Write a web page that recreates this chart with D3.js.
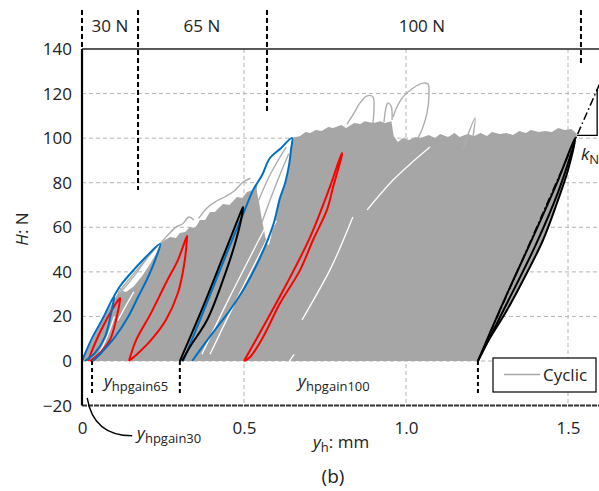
<!DOCTYPE html>
<html>
<head>
<meta charset="utf-8">
<script src="https://cdn.jsdelivr.net/npm/d3@7"></script>
<style>
body { margin: 0; background: #fff; }
svg { display: block; }
svg text { font-family: "Open Sans", sans-serif; fill: #222; }
</style>
</head>
<body>
<script>
const w = 599, h = 491;

// axis ticks
const xTicks = [0, 0.5, 1.0, 1.5];
const xTickLabels = ["0", "0.5", "1.0", "1.5"];
const yTicks = [-20, 0, 20, 40, 60, 80, 100, 120, 140];
const yTickLabels = ["\u221220", "0", "20", "40", "60", "80", "100", "120", "140"];

// load stages
const forceLabels = ["30 N", "65 N", "100 N"];
const forceLabelX = [0.086, 0.370, 1.049];
const forceSplitX = [0, 0.173, 0.571, 1.540];
const forceSplitEnd = [140, 76.7, 111.3, 133.7];
const gainX = [0.031, 0.302, 1.222];
const kN = 331; // N/mm, slope of the dash-dot line

// cyclic cloud (outline of all gray cycles), [y_h mm, H N]
const cyclicCloud = [
  [0,0],[0.019,5.8],[0.043,12.6],[0.068,19.3],[0.093,26.0],[0.111,30.5],[0.123,31.5],[0.136,31.0],
  [0.160,33.5],[0.185,38.0],[0.210,43.5],[0.228,48.0],[0.241,52.5],[0.256,54.3],[0.272,55.6],
  [0.290,55.2],[0.302,57.4],[0.318,57.9],[0.333,60.1],[0.349,59.7],[0.364,63.3],[0.380,63.3],
  [0.395,66.9],[0.410,66.9],[0.435,70.5],[0.455,70.0],[0.478,73.6],[0.495,73.1],[0.509,75.8],
  [0.528,76.7],[0.556,83.5],[0.580,89.8],[0.614,95.5],[0.648,100.1],[0.673,101.0],[0.690,102.8],
  [0.704,102.3],[0.722,103.7],[0.740,103.2],[0.760,105.0],[0.775,104.5],[0.800,105.9],[0.815,104.5],
  [0.840,106.8],[0.860,106.3],[0.872,107.6],[0.900,106.8],[0.920,107.6],[0.935,106.8],[0.955,107.6],
  [0.962,101.0],[0.975,98.3],[0.990,100.1],[1.010,99.2],[1.030,100.5],[1.045,100.1],[1.070,101.4],
  [1.090,100.1],[1.105,101.9],[1.130,100.5],[1.150,102.3],[1.165,100.5],[1.190,101.9],[1.210,101.0],
  [1.230,102.3],[1.250,101.0],[1.265,102.8],[1.290,101.9],[1.310,102.3],[1.330,101.4],[1.350,103.2],
  [1.370,102.3],[1.385,103.7],[1.410,102.8],[1.430,103.2],[1.450,102.8],[1.470,104.5],[1.490,103.7],
  [1.510,104.1],[1.528,101.9],[1.500,85.7],[1.466,70.9],[1.423,54.3],[1.373,39.5],[1.312,22.9],
  [1.250,8.1],[1.222,0]
];

// open area inside the 100 N blue cycle
const cloudGap = [
  [0.648,100.1],[0.614,95.5],[0.580,91.1],[0.556,83.5],[0.540,78.5],[0.548,70.0],[0.560,60.0],
  [0.575,52.0],[0.590,60.1],[0.611,72.2],[0.627,79.0],[0.642,90.2],[0.648,100.1]
];

// single gray cycles that stand out of the cloud
const cyclicLines = [
  [[0.818,106.3],[0.840,111.3],[0.858,115.8],[0.880,119.0],[0.898,118.5],[0.901,112.6],[0.898,106.8]],
  [[0.932,107.2],[0.938,113.5],[0.944,115.8],[0.954,114.4],[0.957,108.1]],
  [[0.960,109.5],[0.972,114.0],[0.991,118.5],[1.022,122.5],[1.052,124.7],[1.068,124.3],[1.071,120.3],[1.065,111.3],[1.049,103.7],[1.037,100.1]],
  [[1.176,94.7],[1.195,103.0],[1.213,109.0],[1.207,101.0]],
  [[0.241,52.5],[0.265,56.5],[0.290,60.1],[0.310,61.5],[0.330,64.6],[0.345,63.3]],
  [[0.360,64.0],[0.385,68.6],[0.410,71.3],[0.440,73.6],[0.470,76.3],[0.497,80.3],[0.520,82.0]],
  [[0.111,30.5],[0.150,37.5],[0.190,44.5],[0.225,50.5]],
  [[0.123,31.5],[0.160,38.0],[0.200,46.0],[0.236,52.0]],
  [[0.099,29.2],[0.117,32.7],[0.125,29.0]],
  [[0.545,72.0],[0.575,82.0],[0.605,90.0],[0.630,96.0]],
  [[0.555,62.0],[0.585,74.0],[0.615,85.0],[0.638,93.0]]
];

// thin white gaps between cycles
const whiteGaps = [
  [[1.074,96.0],[1.010,88.0],[0.960,81.2],[0.880,67.8]],
  [[0.836,64.6],[0.800,52.0],[0.765,40.8],[0.679,18.4]],
  [[0.370,3.0],[0.450,27.0],[0.520,47.0],[0.580,64.0]],
  [[0.395,3.0],[0.475,27.0],[0.545,47.0],[0.600,63.0]],
  [[0.045,1.5],[0.075,10.0],[0.100,20.0]],
  [[0.110,18.0],[0.140,26.0],[0.160,31.0]],
  [[0.640,0],[0.655,3.0]]
];

// highlighted cycles
const redCycles = [
  [[0.019,0],[0.028,3.6],[0.059,13.9],[0.096,23.8],[0.117,28.3],[0.117,27.4],[0.105,18.4],[0.086,9.4],[0.049,2.7],[0.025,0]],
  [[0.145,0],[0.167,9.4],[0.213,21.5],[0.259,35.0],[0.296,45.3],[0.324,56.1],[0.324,55.2],[0.315,43.1],[0.296,30.5],[0.259,18.4],[0.213,9.4],[0.167,2.7],[0.145,0]],
  [[0.500,0],[0.559,15.3],[0.633,35.0],[0.704,55.6],[0.765,78.1],[0.802,93.3],[0.802,92.4],[0.775,78.1],[0.756,67.8],[0.713,54.3],[0.673,40.8],[0.611,25.9],[0.559,10.8],[0.519,1.8],[0.500,0]]
];
const blueCycles = [
  [[0,0],[0.028,9.4],[0.065,19.3],[0.099,29.2],[0.099,28.7],[0.090,21.5],[0.071,10.8],[0.040,3.6],[0.009,0]],
  [[0.034,0],[0.059,3.6],[0.102,10.8],[0.142,19.7],[0.173,28.7],[0.204,37.7],[0.228,46.2],[0.241,52.5],[0.194,46.2],[0.151,39.5],[0.120,34.1],[0.099,29.2]],
  [[0.312,0],[0.364,18.4],[0.410,35.0],[0.457,52.0],[0.500,66.9],[0.528,76.7],[0.556,83.5],[0.580,91.1],[0.614,95.5],[0.648,100.1],[0.645,94.7],[0.639,87.9],[0.627,79.9],[0.611,73.1],[0.590,61.0],[0.549,46.2],[0.503,33.2],[0.457,22.9],[0.410,13.9],[0.364,4.9],[0.340,0]]
];
const blackCycles = [
  [[0.302,0],[0.373,24.2],[0.435,46.7],[0.478,62.4],[0.497,69.1],[0.478,55.6],[0.435,36.3],[0.386,18.4],[0.333,6.3],[0.309,0]],
  [[1.222,0],[1.299,26.0],[1.392,55.6],[1.466,79.9],[1.522,100.1],[1.500,85.7],[1.466,70.9],[1.423,54.3],[1.373,39.5],[1.312,22.9],[1.250,8.1],[1.222,0]],
  [[1.222,0],[1.305,24.0],[1.400,52.0],[1.470,76.0],[1.520,98.0]]
];

const x = d3.scaleLinear().domain([0, 1.6]).range([82, 600.4]);
const y = d3.scaleLinear().domain([-20, 140]).range([405.6, 49]);

const svg = d3.select('body').append('svg')
  .attr('width', w).attr('height', h);

const line = d3.line().x(d => x(d[0])).y(d => y(d[1]));
const smooth = d3.line().x(d => x(d[0])).y(d => y(d[1])).curve(d3.curveCatmullRom.alpha(0.5));

// grid
svg.append('g').selectAll('line')
  .data(yTicks.filter(d => d > -20 && d < 140))
  .enter().append('line')
  .attr('x1', x(0)).attr('x2', w)
  .attr('y1', d => y(d)).attr('y2', d => y(d))
  .attr('stroke', '#b5b5b5').attr('stroke-dasharray', '4,3');
svg.append('g').selectAll('line')
  .data(xTicks.slice(1))
  .enter().append('line')
  .attr('x1', d => x(d)).attr('x2', d => x(d))
  .attr('y1', y(140)).attr('y2', y(-20))
  .attr('stroke', '#b5b5b5').attr('stroke-dasharray', '4,3');

// gray cloud of cycles
svg.append('path')
  .attr('d', line(cyclicCloud) + 'Z')
  .attr('fill', '#a6a6a6');
svg.append('path')
  .attr('d', smooth(cloudGap) + 'Z')
  .attr('fill', '#fff');
svg.append('g').selectAll('path')
  .data(whiteGaps)
  .enter().append('path')
  .attr('d', smooth)
  .attr('fill', 'none').attr('stroke', '#fff').attr('stroke-width', 1.3);
svg.append('g').selectAll('path')
  .data(cyclicLines)
  .enter().append('path')
  .attr('d', smooth)
  .attr('fill', 'none').attr('stroke', '#adadad').attr('stroke-width', 1.4);

// highlighted cycles
const drawCycles = (data, colour) => svg.append('g').selectAll('path')
  .data(data)
  .enter().append('path')
  .attr('d', smooth)
  .attr('fill', 'none').attr('stroke', colour).attr('stroke-width', 2)
  .attr('stroke-linejoin', 'round');
drawCycles(redCycles, '#ff0000');
drawCycles(blueCycles, '#0070c0');
drawCycles(blackCycles, '#000');

// stiffness line and triangle
const kx0 = gainX[2];
svg.append('line')
  .attr('x1', x(kx0)).attr('y1', y(0))
  .attr('x2', x(1.6)).attr('y2', y(kN * (1.6 - kx0)))
  .attr('stroke', '#000').attr('stroke-width', 1.5)
  .attr('stroke-dasharray', '8,3,1.5,3');
const tA = 1.528, tB = 1.590;
svg.append('path')
  .attr('d', `M${x(tA)},${y(kN * (tA - kx0))}H${x(tB)}V${y(kN * (tB - kx0))}`)
  .attr('fill', 'none').attr('stroke', '#000').attr('stroke-width', 1.3);

// frame
svg.append('line')
  .attr('x1', x(0)).attr('x2', w).attr('y1', y(140)).attr('y2', y(140))
  .attr('stroke', '#222').attr('stroke-width', 1.6);
svg.append('line')
  .attr('x1', x(0)).attr('x2', w).attr('y1', y(-20)).attr('y2', y(-20))
  .attr('stroke', '#333').attr('stroke-width', 2).attr('stroke-dasharray', '5,1');
svg.append('line')
  .attr('x1', x(0)).attr('x2', x(0)).attr('y1', y(140)).attr('y2', y(-20))
  .attr('stroke', '#000').attr('stroke-width', 2.2);

// stage separators
svg.append('g').selectAll('line')
  .data(forceSplitX)
  .enter().append('line')
  .attr('x1', d => x(d)).attr('x2', d => x(d))
  .attr('y1', y(157.5)).attr('y2', (d, i) => y(forceSplitEnd[i]))
  .attr('stroke', '#000').attr('stroke-width', 2).attr('stroke-dasharray', '5,3');
svg.append('g').selectAll('text')
  .data(forceLabels)
  .enter().append('text')
  .attr('x', (d, i) => x(forceLabelX[i])).attr('y', y(147.6))
  .attr('text-anchor', 'middle').attr('font-size', 17)
  .text(d => d);

// gain markers
svg.append('g').selectAll('line')
  .data(gainX)
  .enter().append('line')
  .attr('x1', d => x(d)).attr('x2', d => x(d))
  .attr('y1', y(0)).attr('y2', y(-15.3))
  .attr('stroke', '#000').attr('stroke-width', 2).attr('stroke-dasharray', '4,3');

const subLabel = (px, py, main, sub, rest) => {
  const t = svg.append('text').attr('x', px).attr('y', py).attr('font-size', 17);
  t.append('tspan').attr('font-style', 'italic').text(main);
  t.append('tspan').attr('font-size', 13).attr('dy', 4).text(sub);
  if (rest) t.append('tspan').attr('dy', -4).text(rest);
  return t;
};
subLabel(x(0.068), y(-11.7), 'y', 'hpgain65');
subLabel(x(0.667), y(-11.7), 'y', 'hpgain100');
subLabel(x(0.170), y(-34.8), 'y', 'hpgain30');
subLabel(313, 448, 'y', 'h', ': mm');
subLabel(581, 160, 'k', 'N');

svg.append('path')
  .attr('d', `M${x(0.016)},${y(-16.5)}Q${x(0.035)},${y(-33.5)} ${x(0.155)},${y(-33.5)}`)
  .attr('fill', 'none').attr('stroke', '#000').attr('stroke-width', 1.4);

// axes
const yAxis = svg.append('g')
  .attr('transform', `translate(${x(0)},0)`)
  .call(d3.axisLeft(y).tickValues(yTicks).tickFormat((d, i) => yTickLabels[i]).tickSize(0).tickPadding(10));
const xAxis = svg.append('g')
  .attr('transform', `translate(0,${y(-20)})`)
  .call(d3.axisBottom(x).tickValues(xTicks).tickFormat((d, i) => xTickLabels[i]).tickSize(0).tickPadding(16));
[yAxis, xAxis].forEach(a => {
  a.select('.domain').remove();
  a.selectAll('text').attr('font-size', 17).attr('font-family', '"Open Sans", sans-serif').attr('fill', '#222');
});

const yTitle = svg.append('text')
  .attr('transform', 'translate(28,229) rotate(-90)')
  .attr('text-anchor', 'middle').attr('font-size', 17);
yTitle.append('tspan').attr('font-style', 'italic').text('H');
yTitle.append('tspan').text(': N');

svg.append('text')
  .attr('x', 333).attr('y', 483).attr('text-anchor', 'middle').attr('font-size', 19)
  .text('(b)');

// legend
const lg = svg.append('g').attr('transform', 'translate(493,358)');
lg.append('rect').attr('width', 103).attr('height', 34)
  .attr('fill', '#fff').attr('stroke', '#000').attr('stroke-width', 1.2);
lg.append('line').attr('x1', 11).attr('x2', 47).attr('y1', 16.5).attr('y2', 16.5)
  .attr('stroke', '#a6a6a6').attr('stroke-width', 1.5);
lg.append('text').attr('x', 50).attr('y', 23).attr('font-size', 17).text('Cyclic');
</script>
</body>
</html>
